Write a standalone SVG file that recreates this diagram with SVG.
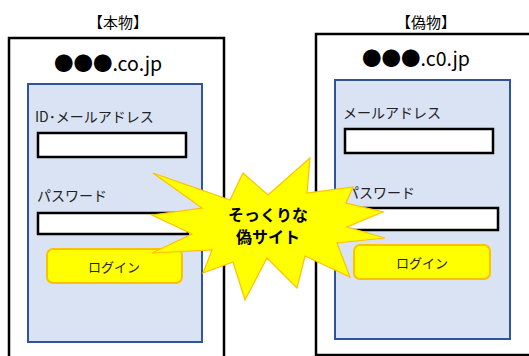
<svg xmlns="http://www.w3.org/2000/svg" width="529" height="356" viewBox="0 0 529 356">
<style>
text{font-family:"Noto Sans CJK JP","Liberation Sans",sans-serif;fill:#000}
.outer{fill:#fff;stroke:#000;stroke-width:2.5}
.panel{fill:#DAE3F3;stroke:#2F5597;stroke-width:2}
.input{fill:#fff;stroke:#000;stroke-width:2.5}
.btn{fill:#FFFF00;stroke:#FFC000;stroke-width:2}
.title{font-size:15px}
.domain{font-size:19.5px}
.label{font-size:14px;fill:#222}
.btxt{font-size:13px;fill:#222}
.star{fill:#FFFF00;stroke:#FFC000;stroke-width:1.2}
.stxt{font-size:16px;font-weight:bold}
</style>
<g id="real">
<text class="title" x="118" y="28" text-anchor="middle">【本物】</text>
<rect class="outer" x="9" y="38" width="215" height="330"/>
<text class="domain" x="108" y="71" text-anchor="middle">●●●.co.jp</text>
<rect class="panel" x="28" y="84" width="174" height="258"/>
<text class="label" x="35" y="122">ID･メールアドレス</text>
<rect class="input" x="38" y="133" width="148" height="24"/>
<text class="label" x="37" y="201">パスワード</text>
<rect class="input" x="38" y="213" width="150" height="21"/>
<rect class="btn" x="47" y="249" width="135" height="34" rx="6"/>
<text class="btxt" x="114" y="272" text-anchor="middle">ログイン</text>
</g>
<g id="fake">
<text class="title" x="426" y="28" text-anchor="middle">【偽物】</text>
<rect class="outer" x="316" y="34" width="230" height="321"/>
<text class="domain" x="416" y="66" text-anchor="middle">●●●.c0.jp</text>
<rect class="panel" x="335" y="80" width="175" height="259"/>
<text class="label" x="343" y="118">メールアドレス</text>
<rect class="input" x="345" y="129" width="148" height="24"/>
<text class="label" x="345" y="198">パスワード</text>
<rect class="input" x="345" y="208" width="153" height="22"/>
<rect class="btn" x="354" y="245" width="136" height="34" rx="6"/>
<text class="btxt" x="422" y="268" text-anchor="middle">ログイン</text>
</g>
<g id="burst">
<polygon class="star" points="153,173 230,200 243,173 268,195 310,158 307,193 353,187 346,203 383,212 347,227 385,238 337,243 350,277 305,256 297,288 267,258 245,300 233,262 203,273 212,250 152,253 192,234 152,215 202,208"/>
<text class="stxt" x="268" y="221" text-anchor="middle">そっくりな</text>
<text class="stxt" x="268" y="243" text-anchor="middle">偽サイト</text>
</g>
<g id="connectors"/>
</svg>
